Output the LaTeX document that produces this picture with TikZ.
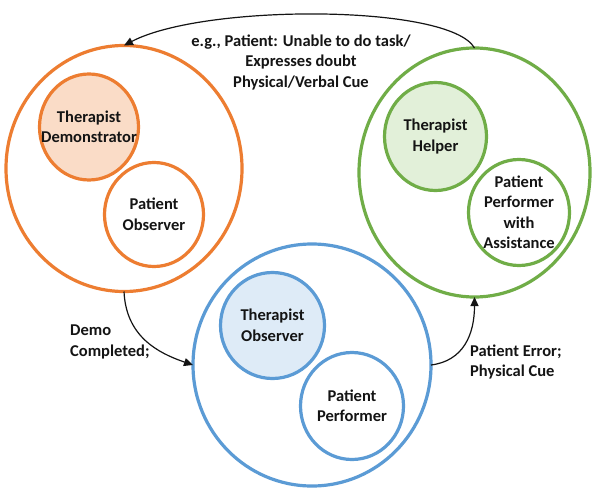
\documentclass[tikz,border=0pt]{standalone}
\usepackage{fontspec}
\setmainfont{Carlito}
\usetikzlibrary{shapes.geometric,arrows.meta}
\definecolor{orng}{HTML}{ED7D31}
\definecolor{orngfill}{HTML}{FADCC7}
\definecolor{grn}{HTML}{70AD47}
\definecolor{grnfill}{HTML}{E2F0D9}
\definecolor{blu}{HTML}{5B9BD5}
\definecolor{blufill}{HTML}{DEEBF7}
\definecolor{ink}{HTML}{141414}
\tikzset{
  ring/.style={ellipse, draw=#1, line width=3.2pt, inner sep=0pt, outer sep=0pt},
  role/.style={label={[align=center, text=ink]center:#1}},
  flow/.style={draw=ink, line width=1.2pt, -{Triangle[length=9pt,width=8pt]}},
  note/.style={text=ink, align=left, inner sep=0pt},
}
\begin{document}
\begin{tikzpicture}[x=1pt, y=-1pt, font=\bfseries\fontsize{16.5}{20.5}\selectfont]
\useasboundingbox (0,0) rectangle (593,489);
\fill[white] (0,0) rectangle (593,489);

% demonstration phase
\node[ring=orng, minimum width=236pt, minimum height=246pt] (demo) at (124,168.5) {};
\node[ring=orng, fill=orngfill, minimum width=99pt, minimum height=106pt,
      role={Therapist\\Demonstrator}] (tdemo) at (89,127) {};
\node[ring=orng, minimum width=99pt, minimum height=104pt,
      role={Patient\\Observer}] (pobs) at (154,214.5) {};

% assisted phase
\node[ring=grn, minimum width=231pt, minimum height=249pt] (assist) at (474.5,172.5) {};
\node[ring=grn, fill=grnfill, minimum width=102pt, minimum height=108pt,
      role={Therapist\\Helper}] (thelp) at (435.5,136.5) {};
\node[ring=grn, minimum width=101pt, minimum height=106pt,
      role={Patient\\Performer\\with\\Assistance}] (passist) at (519,212.5) {};

% independent phase
\node[ring=blu, minimum width=238pt, minimum height=242pt] (perform) at (312,365) {};
\node[ring=blu, fill=blufill, minimum width=104pt, minimum height=106pt,
      role={Therapist\\Observer}] (tobs) at (272.5,325.5) {};
\node[ring=blu, minimum width=103pt, minimum height=107pt,
      role={Patient\\Performer}] (pperf) at (352,406) {};

% transitions
\draw[flow] (assist.north) .. controls +(-25,-44) and +(80,-42) .. (demo.north);
\draw[flow] (demo.south) .. controls +(2,45) and +(-35,-12) .. (perform.west);
\draw[flow] (perform.east) .. controls +(32,-4) and +(0,38) .. (assist.south);

% transition labels
\node[note, align=center] (cue) at (301,62) {e.g., Patient: Unable to do task/\\Expresses doubt\\Physical/Verbal Cue};
\node[note, anchor=west] (done) at (70,342) {Demo\\Completed;};
\node[note, anchor=west] (err) at (470,362) {Patient Error;\\Physical Cue};
\end{tikzpicture}
\end{document}
